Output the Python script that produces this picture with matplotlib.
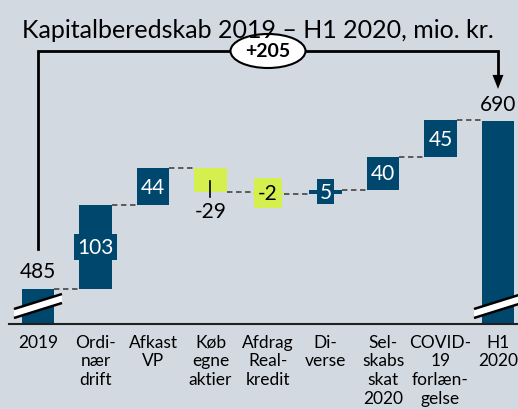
import matplotlib
matplotlib.use("Agg")
import matplotlib.pyplot as plt
from matplotlib.patches import Polygon, Ellipse
import numpy as np

# ---- data ----
categories = ["2019", "Ordi-\nnær\ndrift", "Afkast\nVP", "Køb\negne\naktier",
              "Afdrag\nReal-\nkredit", "Di-\nverse", "Sel-\nskabs\nskat\n2020",
              "COVID-\n19\nforlæn-\ngelse", "H1\n2020"]
start_value = 485
deltas = [103, 44, -29, -2, 5, 40, 45]
end_value = 690
total_change = "+205"
title = "Kapitalberedskab 2019 – H1 2020, mio. kr."

# ---- style ----
BG = "#D3D9E1"
BLUE = "#00476E"
GREEN = "#D5EF4F"
FONT = "Lato"
plt.rcParams["font.family"] = [FONT, "DejaVu Sans"]

W, H = 518, 410
fig = plt.figure(figsize=(W / 100, H / 100), dpi=100)
fig.patch.set_facecolor(BG)

ax = fig.add_axes([9 / W, (H - 325) / H, 1 - 9 / W, 325 / H])
ax.set_facecolor(BG)
ax.set_xlim(-0.504, 8.348)
ax.set_ylim(442.3, 838.7)
ppu = 325 / (838.7 - 442.3)
ppx = (W - 9) / (8.348 + 0.504)

bw = 0.56
ybase = ax.get_ylim()[0]
n = len(categories)
x = np.arange(n)

levels = [start_value]
for d in deltas:
    levels.append(levels[-1] + d)

ax.bar(x[0], start_value - ybase, bottom=ybase, width=bw, color=BLUE, zorder=2)
ax.bar(x[-1], end_value - ybase, bottom=ybase, width=bw, color=BLUE, zorder=2)

def px2v(p):
    return p / ppu

for i, d in enumerate(deltas):
    xi = x[i + 1]
    lo = min(levels[i], levels[i + 1])
    col = BLUE if d > 0 else GREEN
    ax.bar(xi, abs(d), bottom=lo, width=bw, color=col, zorder=2)
    mid = lo + abs(d) / 2
    lab = f"{d}"
    small = abs(d) * ppu < 12
    if d > 0:
        if small or i == 0:
            pad = 0.15 if i == 0 else 0.12
            ax.text(xi, mid, lab, ha="center", va="center", color="white", fontsize=15, zorder=4,
                    bbox=dict(boxstyle=f"square,pad={pad}", fc=BLUE, ec="none"))
        else:
            ax.text(xi, mid, lab, ha="center", va="center", color="white", fontsize=15, zorder=4)
    else:
        if small:
            ax.text(xi, mid, lab, ha="center", va="center", color="black", fontsize=15, zorder=4,
                    bbox=dict(boxstyle="square,pad=0.22", fc=GREEN, ec="none"))
        else:
            ax.plot([xi, xi], [lo + px2v(11), lo - px2v(5)], color="black", lw=1.2, zorder=4)
            ax.text(xi, lo - px2v(19), lab, ha="center", va="center", color="black", fontsize=15, zorder=4)

for i in range(n - 1):
    lvl = levels[i]
    ax.plot([x[i] + bw / 2, x[i + 1] - bw / 2], [lvl, lvl], color="#505050", lw=1.3,
            ls=(0, (3, 2)), zorder=1)

ax.text(x[0], start_value + px2v(18), f"{start_value}", ha="center", va="center", fontsize=15)
ax.text(x[-1], end_value + px2v(17), f"{end_value}", ha="center", va="center", fontsize=15)

def break_mark(xc):
    hw = 24 / ppx
    yl0, yr0 = ybase + px2v(6), ybase + px2v(21)
    yl1, yr1 = ybase + px2v(15), ybase + px2v(30)
    poly = Polygon([[xc - hw, yl0], [xc + hw, yr0], [xc + hw, yr1], [xc - hw, yl1]],
                   closed=True, fc="white", ec="none", zorder=3, clip_on=False)
    ax.add_patch(poly)
    ax.plot([xc - hw, xc + hw], [yl0, yr0], color="black", lw=1.8, zorder=3, solid_capstyle="butt")
    ax.plot([xc - hw, xc + hw], [yl1, yr1], color="black", lw=1.8, zorder=3, solid_capstyle="butt")

break_mark(x[0])
break_mark(x[-1])

yb_low = start_value + px2v(40)
yb_top = start_value + px2v(238)
y_tip = end_value + px2v(32)
ax.plot([x[0], x[0], x[-1], x[-1]], [yb_low, yb_top, yb_top, y_tip + px2v(10)],
        color="black", lw=2, zorder=3, clip_on=False, solid_joinstyle="miter")
arrow = Polygon([[x[-1] - 5.5 / ppx, y_tip + px2v(14)], [x[-1] + 5.5 / ppx, y_tip + px2v(14)],
                 [x[-1], y_tip]], closed=True, fc="black", ec="none", zorder=3, clip_on=False)
ax.add_patch(arrow)
xm = (x[0] + x[-1]) / 2
ax.add_patch(Ellipse((xm, yb_top), 75 / ppx, 34 / ppu, fc="white", ec="black", lw=1.5,
                     zorder=4, clip_on=False))
ax.text(xm, yb_top, total_change, ha="center", va="center", fontsize=14, fontweight="bold", zorder=5)

for s in ["top", "right", "left"]:
    ax.spines[s].set_visible(False)
ax.spines["bottom"].set_color("#202020")
ax.spines["bottom"].set_linewidth(1.5)
ax.set_yticks([])
ax.set_xticks(x)
ax.set_xticklabels(categories, fontsize=12.5, linespacing=1.2, va="top")
ax.tick_params(axis="x", length=0, pad=7)

fig.text(258 / W, 1 - 31 / H, title, ha="center", va="center", fontsize=18)

fig.savefig("out.png", dpi=100, facecolor=BG)
